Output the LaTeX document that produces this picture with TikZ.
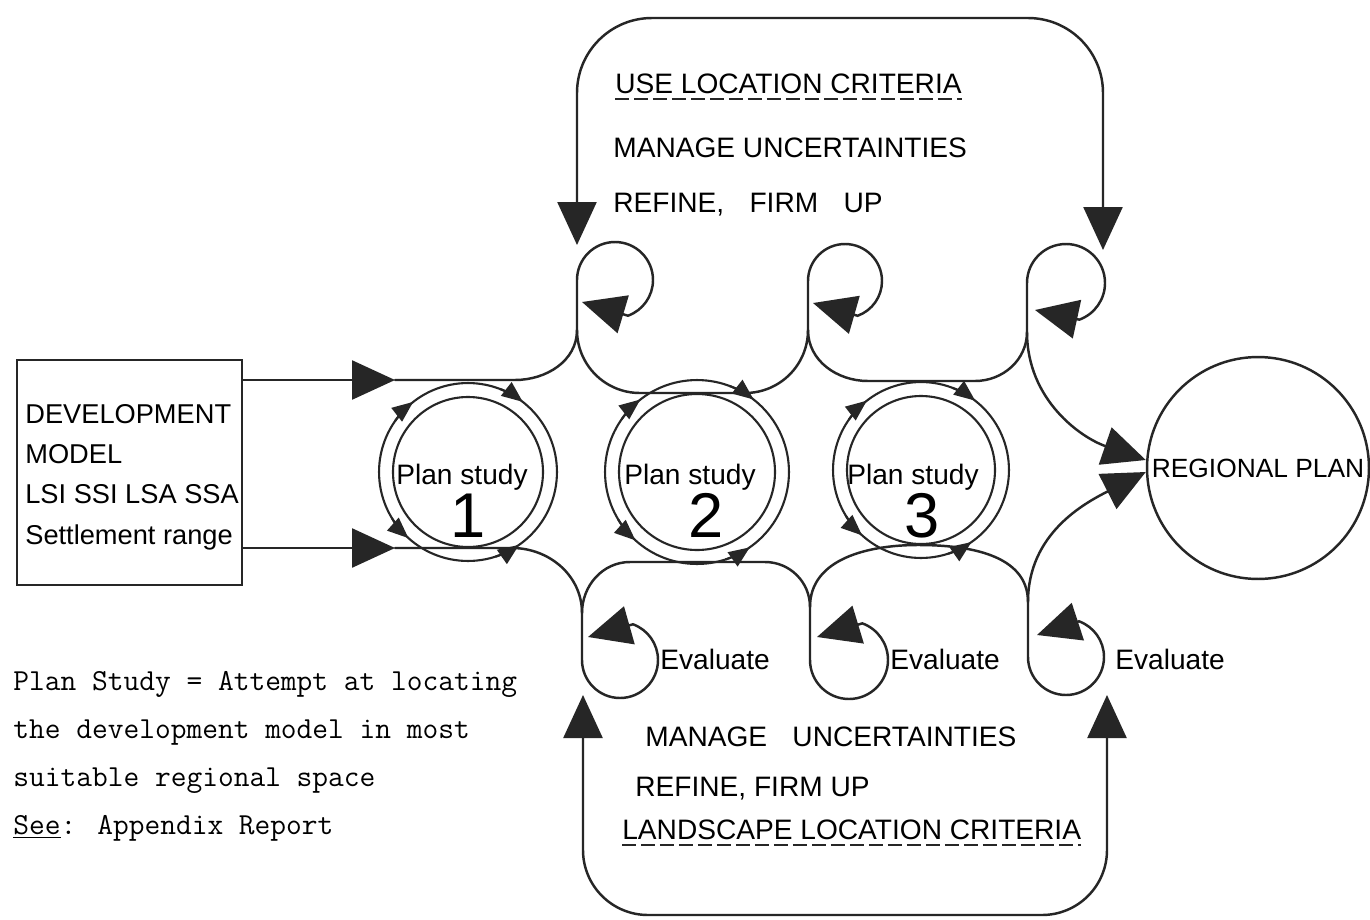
\documentclass[tikz,border=0pt]{standalone}
\usepackage{fontspec}
\setsansfont{Liberation Sans}
\usetikzlibrary{arrows.meta}

\begin{document}
\begin{tikzpicture}[
  x=0.02cm, y=0.02cm,
  font=\sffamily\fontsize{16}{19}\selectfont,
  flow/.style={line width=1.4pt, draw=black!85, line cap=round},
  bigtip/.style={-{Triangle[length=0.86cm, width=0.78cm]}},
  bigtips/.style={{Triangle[length=0.86cm, width=0.78cm]}-{Triangle[length=0.86cm, width=0.78cm]}},
  study/.style={circle, draw=black!85, line width=1.2pt, inner sep=0pt},
  ring/.style={line width=1.2pt, draw=black!85},
  smalltip/.style={-{Triangle[length=0.42cm, width=0.34cm]}},
  txt/.style={anchor=base west, inner sep=0pt},
  studytext/.style={anchor=base, inner sep=0pt},
  digit/.style={anchor=base, inner sep=0pt, font=\sffamily\fontsize{36}{40}\selectfont},
  critline/.style={line width=0.8pt, draw=black!85, dash pattern=on 0.28cm off 0.1cm},
]
\path[use as bounding box, fill=white] (0,0) rectangle (1370,-920);

% --- Development model box ---
\node[draw=black!85, line width=1.4pt, minimum width=4.5cm, minimum height=4.5cm, inner sep=0pt] (devmodel) at (129.5,-472.5) {};
\node[anchor=north west, align=left, inner sep=0pt, font=\sffamily\fontsize{15.5}{22.9}\selectfont]
  (devtext) at (25,-404) {DEVELOPMENT\\MODEL\\LSI SSI LSA SSA\\Settlement range};

% --- Plan studies ---
\foreach \n/\cx/\cy/\rout/\rin/\tx/\dx in {1/468/-472/89/75/462/468, 2/697/-472/92/78/690/706, 3/921/-470/88/74/913/922}{
  \node[study, minimum size=\rout*0.04cm] (ps\n) at (\cx,\cy) {};
  \draw[ring] (ps\n.center) circle[radius=\rin];
  % flow over the top clockwise, under the bottom anticlockwise
  \foreach \sa/\ea in {145/128, 69/52, 211/228, 288/305}
    \draw[ring, smalltip] (ps\n.center) ++(\sa:\rout) arc[start angle=\sa, end angle=\ea, radius=\rout];
  \node[studytext] (pst\n) at (\tx,-484) {Plan study};
  \node[digit] (psd\n) at (\dx,-537) {\n};
}

% --- Regional plan ---
\node[study, line width=1.4pt, minimum size=4.44cm, font=\sffamily\fontsize{15}{18}\selectfont] (regplan) at (1258,-468) {REGIONAL PLAN};
\coordinate (rp1) at ([yshift=0.16cm]regplan.west);
\coordinate (rp2) at ([yshift=-0.08cm]regplan.west);

% --- Junctions of the two waves ---
\coordinate (in1) at (395,-380);
\coordinate (in2) at (395,-548);
\coordinate (t1) at (577,-330);
\coordinate (t2) at (808,-330);
\coordinate (t3) at (1027,-332);
\coordinate (b1) at (582,-613);
\coordinate (b2) at (810,-607);
\coordinate (b3) at (1028,-602);

% --- Inputs from the model ---
\draw[flow, bigtip] (devmodel.east |- in1) -- (in1);
\draw[flow, bigtip] (devmodel.east |- in2) -- (in2);

% --- Upper wave ---
\draw[flow] (in1) -- (515,-380) to[out=0, in=-90] (t1);
\draw[flow] (t1) to[out=-90, in=180] (640,-393) -- (745,-393) to[out=0, in=-90] (t2);
\draw[flow] (t2) to[out=-90, in=180] (868,-381) -- (975,-381) to[out=0, in=-90] (t3);
\draw[flow, bigtip] (t3) to[out=-90, in=161] (rp1);

% --- Lower wave ---
\draw[flow] (in2) -- (512,-548) to[out=0, in=90] (b1);
\draw[flow] (b1) to[out=90, in=180] (630,-562) -- (765,-562) to[out=0, in=90] (b2);
\draw[flow] (b2) to[out=90, in=180] (918,-545) to[out=0, in=90] (b3);
\draw[flow, bigtip] (b3) to[out=90, in=-153] (rp2);

% --- Small loops (iterate / evaluate) ---
\foreach \lp/\vx/\cy/\rad/\tipx/\tipy in {1/577/-280/38/582/-302, 2/808/-281/37/813/-303, 3/1027/-283/39/1035/-310}
  \draw[flow, bigtip] (t\lp) -- (\vx,\cy) arc[start angle=180, end angle=-70, radius=\rad] -- (\tipx,\tipy);
\foreach \lp/\vx/\cy/\rad/\tipx/\tipy in {1/582/-660/38/588/-637, 2/810/-660/39/817/-637, 3/1028/-657/38/1037/-635}
  \draw[flow, bigtip] (b\lp) -- (\vx,\cy) arc[start angle=180, end angle=430, radius=\rad] -- (\tipx,\tipy);
\foreach \lp/\ex in {1/660, 2/890, 3/1115}
  \node[txt] (eval\lp) at (\ex,-669) {Evaluate};

% --- Big feedback loops ---
\coordinate (upL) at (577,-245);
\coordinate (upR) at (1103,-250);
\coordinate (dnL) at (583,-695);
\coordinate (dnR) at (1107,-695);
\draw[flow, bigtips, rounded corners=1.5cm] (upL) -- (577,-18) -- (1103,-18) -- (upR);
\draw[flow, bigtips, rounded corners=1.3cm] (dnL) -- (583,-915) -- (1107,-915) -- (dnR);

% --- Loop texts ---
\node[txt] (usecrit) at (615,-93) {USE LOCATION CRITERIA};
\draw[critline] ([yshift=-0.12cm]usecrit.base west) -- ([yshift=-0.12cm]usecrit.base east);
\node[txt] (mantop) at (613,-157) {MANAGE UNCERTAINTIES};
\node[txt] (reftop) at (613,-212) {REFINE,\hspace{0.9em}FIRM\hspace{0.9em}UP};
\node[txt] (manbot) at (645,-746) {MANAGE\hspace{0.9em}UNCERTAINTIES};
\node[txt] (refbot) at (635,-796) {REFINE, FIRM UP};
\node[txt] (landcrit) at (622,-839) {LANDSCAPE LOCATION CRITERIA};
\draw[critline] ([yshift=-0.12cm]landcrit.base west) -- ([yshift=-0.12cm]landcrit.base east);

% --- Legend ---
\node[anchor=north west, align=left, inner sep=0pt, font=\ttfamily\fontsize{17.4}{27.4}\selectfont] (legend) at (13,-671)
  {Plan Study = Attempt at locating\\the development model in most\\suitable regional space\\\underline{See}: Appendix Report};

\end{tikzpicture}
\end{document}
